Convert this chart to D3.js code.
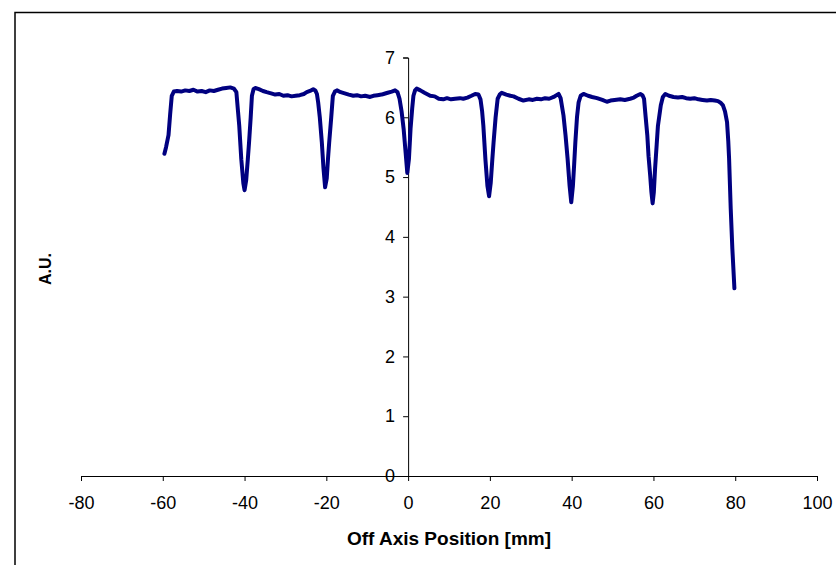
<!DOCTYPE html>
<html>
<head>
<meta charset="utf-8">
<script src="https://cdn.jsdelivr.net/npm/d3@7"></script>
<style>
  body { margin: 0; background: #fff; }
  text { font-family: "Liberation Sans", Arial, sans-serif; }
</style>
</head>
<body>
<div id="chart"></div>
<script>
const width = 836;
const height = 565;

// Posições ao longo do eixo [mm]
const positions = [
  -59.6, -59.2, -58.6, -58.2, -57.8, -57.3, -56.5, -55.5, -54.5, -53.5, -52.5, -51.5, -50.5, -49.5,
  -48.5, -47.5, -46.5, -45.5, -44.5, -43.5, -42.6, -42.0,
  -41.6, -41.3, -40.8, -40.3, -40.0, -39.6, -39.2, -38.9, -38.5, -38.2, -37.8, -37.4,
  -36.5, -35.5, -34.6, -33.5, -32.5, -31.5, -30.5, -29.5, -28.5, -27.5, -26.5, -25.5, -24.8, -24.0,
  -23.2, -22.7, -22.3,
  -22.0, -21.6, -21.1, -20.7, -20.3, -19.9, -19.6, -19.3, -18.8, -18.4, -17.9, -17.4,
  -16.5, -15.5, -14.5, -13.4, -12.5, -11.5, -10.5, -9.3, -8.5, -7.5, -6.5, -6.0, -5.0, -4.0, -3.2,
  -2.6, -2.1,
  -1.6, -1.1, -0.6, -0.2, 0.2, 0.6, 1.0, 1.3, 1.7, 2.1,
  3.0, 4.0, 5.4, 6.5, 7.5, 8.6, 9.5, 10.5, 11.5, 12.7, 13.5, 14.5, 15.5, 16.4, 17.2, 17.7,
  18.1, 18.4, 18.9, 19.4, 19.8, 20.2, 20.6, 20.9, 21.4, 21.9, 22.4, 22.9,
  24.0, 25.0, 25.8, 27.0, 28.2, 29.5, 30.5, 31.5, 32.5, 33.5, 34.5, 35.6, 36.3, 36.8, 37.3,
  38.0, 38.5, 39.0, 39.5, 39.9, 40.3, 40.6, 40.9, 41.3, 41.7, 42.2, 42.9,
  44.0, 45.0, 46.2, 47.5, 48.6, 49.5, 50.5, 51.9, 53.0, 54.3, 55.2, 55.9, 56.8, 57.3, 57.7,
  58.1, 58.5, 58.8, 59.2, 59.5, 59.8, 60.1, 60.4, 60.8, 61.1, 61.8, 62.3, 62.9,
  63.8, 64.9, 66.0, 67.0, 68.0, 69.0, 70.0, 71.0, 72.0, 73.1, 74.0, 75.0, 75.8, 76.5, 77.0,
  77.5, 78.0, 78.3, 78.5, 78.9, 79.3, 79.8
];

// Intensidade [A.U.]
const values = [
  5.39, 5.50, 5.70, 6.05, 6.36, 6.43, 6.44, 6.43, 6.45, 6.44, 6.46, 6.43, 6.44, 6.42,
  6.45, 6.44, 6.46, 6.48, 6.49, 6.50, 6.48, 6.42,
  6.10, 5.86, 5.30, 4.90, 4.78, 4.95, 5.30, 5.58, 6.00, 6.36, 6.47, 6.49,
  6.47, 6.44, 6.42, 6.40, 6.38, 6.39, 6.36, 6.37, 6.35, 6.36, 6.37, 6.39, 6.42, 6.44,
  6.47, 6.45, 6.39,
  6.25, 6.00, 5.58, 5.15, 4.83, 4.98, 5.30, 5.58, 6.00, 6.36, 6.43, 6.45,
  6.42, 6.40, 6.38, 6.36, 6.37, 6.35, 6.36, 6.34, 6.36, 6.37, 6.38, 6.39, 6.41, 6.43, 6.45,
  6.42, 6.31,
  6.10, 5.81, 5.40, 5.07, 5.30, 5.81, 6.15, 6.36, 6.45, 6.48,
  6.45, 6.41, 6.36, 6.35, 6.31, 6.30, 6.32, 6.30, 6.31, 6.32, 6.31, 6.33, 6.36, 6.39, 6.38, 6.30,
  6.10, 5.86, 5.30, 4.85, 4.68, 4.90, 5.30, 5.58, 6.00, 6.31, 6.38, 6.41,
  6.38, 6.36, 6.35, 6.31, 6.28, 6.30, 6.29, 6.31, 6.30, 6.32, 6.31, 6.34, 6.37, 6.39, 6.32,
  6.03, 5.70, 5.31, 4.85, 4.58, 4.85, 5.20, 5.58, 6.00, 6.25, 6.36, 6.39,
  6.36, 6.34, 6.32, 6.29, 6.26, 6.28, 6.29, 6.30, 6.29, 6.31, 6.33, 6.36, 6.39, 6.37, 6.31,
  6.00, 5.70, 5.35, 5.03, 4.75, 4.56, 4.75, 5.14, 5.55, 5.86, 6.20, 6.34, 6.39,
  6.36, 6.34, 6.33, 6.34, 6.32, 6.31, 6.32, 6.30, 6.29, 6.28, 6.29, 6.28, 6.27, 6.24, 6.20,
  6.10, 5.92, 5.60, 5.31, 4.47, 3.80, 3.14
];

const xTicks = [-80, -60, -40, -20, 0, 20, 40, 60, 80, 100];
const yTicks = [0, 1, 2, 3, 4, 5, 6, 7];

const data = positions.map((p, i) => ({ x: p, y: values[i] }));

const svg = d3.select("#chart").append("svg")
    .attr("width", width)
    .attr("height", height);

// Moldura da área do gráfico
svg.append("path")
    .attr("d", `M15,${height}V12.5H${width}`)
    .attr("fill", "none")
    .attr("stroke", "#000")
    .attr("stroke-width", 1.5);

const x = d3.scaleLinear().domain([-80, 100]).range([81, 817]);
const y = d3.scaleLinear().domain([0, 7]).range([476, 57.5]);

// Eixo X
const xAxis = svg.append("g")
    .attr("transform", `translate(0,${y(0)})`)
    .call(d3.axisBottom(x).tickValues(xTicks).tickFormat(d => String(d))
        .tickSize(5).tickPadding(15).tickSizeOuter(5));
xAxis.selectAll("text").attr("font-size", 18).attr("font-family", "Liberation Sans, Arial, sans-serif").attr("fill", "#000");

// Eixo Y
const yAxis = svg.append("g")
    .attr("transform", `translate(${x(0)},0)`)
    .call(d3.axisLeft(y).tickValues(yTicks).tickFormat(d => String(d))
        .tickSize(5).tickPadding(8).tickSizeOuter(5));
yAxis.selectAll("text").attr("font-size", 18).attr("font-family", "Liberation Sans, Arial, sans-serif").attr("fill", "#000");

svg.selectAll(".domain, .tick line").attr("stroke", "#000");

// Curva
const line = d3.line()
    .x(d => x(d.x))
    .y(d => y(d.y));

svg.append("path")
    .datum(data)
    .attr("d", line)
    .attr("fill", "none")
    .attr("stroke", "#000080")
    .attr("stroke-width", 4)
    .attr("stroke-linejoin", "round")
    .attr("stroke-linecap", "round");

// Títulos dos eixos
svg.append("text")
    .attr("x", 449)
    .attr("y", 545)
    .attr("text-anchor", "middle")
    .attr("font-size", 19)
    .attr("font-weight", "bold")
    .text("Off Axis Position [mm]");

svg.append("text")
    .attr("transform", "translate(51,269) rotate(-90)")
    .attr("text-anchor", "middle")
    .attr("font-size", 16)
    .attr("font-weight", "bold")
    .text("A.U.");
</script>
</body>
</html>
